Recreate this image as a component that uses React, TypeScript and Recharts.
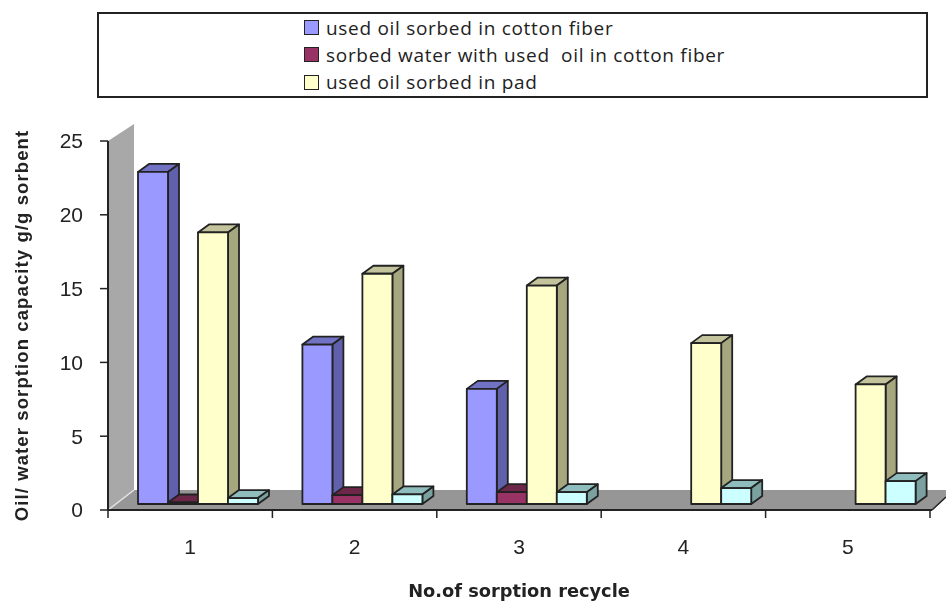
import { BarChart, Bar, XAxis, YAxis, Legend, Label, Customized } from 'recharts';

const CATEGORIES = ['1', '2', '3', '4', '5'];
const COTTON_OIL = [22.5, 10.8, 7.8, null, null];
const COTTON_WATER = [0.1, 0.6, 0.8, null, null];
const PAD_OIL = [18.4, 15.6, 14.8, 10.9, 8.1];
const PAD_WATER = [0.4, 0.65, 0.8, 1.08, 1.55];
const Y_TICKS = [0, 5, 10, 15, 20, 25];

const chartData = CATEGORIES.map((name, i) => ({
  name,
  cottonOil: COTTON_OIL[i],
  cottonWater: COTTON_WATER[i],
  padOil: PAD_OIL[i],
  padWater: PAD_WATER[i],
}));

const INK = '#222';
const BAND = 164.4;
// how far the bars stand back from the front edge of the floor
const SHIFT_X = 8;
const SHIFT_Y = -6;
const DEPTH_X = 11;
const DEPTH_Y = -8;

function box(front: string, side: string, top: string) {
  return (props: any) => {
    const { x, y, width, height } = props;
    if (!height || height <= 0) return null;
    const l = x + SHIFT_X;
    const r = l + width;
    const t = y + SHIFT_Y;
    const b = t + height;
    const line = { stroke: INK, strokeWidth: 1.8, strokeLinejoin: 'round' as const };
    return (
      <g>
        <polygon points={`${l},${t} ${l + DEPTH_X},${t + DEPTH_Y} ${r + DEPTH_X},${t + DEPTH_Y} ${r},${t}`} fill={top} {...line} />
        <polygon points={`${r},${t} ${r + DEPTH_X},${t + DEPTH_Y} ${r + DEPTH_X},${b + DEPTH_Y} ${r},${b}`} fill={side} {...line} />
        <rect x={l} y={t} width={width} height={height} fill={front} {...line} />
      </g>
    );
  };
}

function Backdrop() {
  return (
    <g>
      <polygon points="108,141 134,124 134,490 108,510" fill="#a8a8a8" />
      <polygon points="108,510 134,490 946,490 946,497 932,510" fill="#969696" />
      <line x1={108} y1={510} x2={134} y2={490} stroke="#e4e4e4" strokeWidth={1.5} />
      <line x1={108} y1={510} x2={932} y2={510} stroke={INK} strokeWidth={2} />
      <line x1={932} y1={510} x2={946} y2={497} stroke={INK} strokeWidth={1.5} />
    </g>
  );
}

function CategoryTick(props: any) {
  const { x, y, payload, index } = props;
  const left = x - BAND / 2;
  const right = x + BAND / 2;
  return (
    <g>
      <line x1={left} y1={y - 8} x2={left} y2={y} stroke={INK} strokeWidth={1.5} />
      {index === CATEGORIES.length - 1 && <line x1={right} y1={y - 8} x2={right} y2={y} stroke={INK} strokeWidth={1.5} />}
      <text x={x} y={y + 36} textAnchor="middle" fontFamily="Liberation Sans" fontSize={21} fill={INK}>
        {payload.value}
      </text>
    </g>
  );
}

function LegendBox(props: any) {
  const items = (props.payload || []).filter((p: any) => p.type !== 'none');
  return (
    <div
      style={{
        boxSizing: 'border-box',
        width: 831,
        height: 86,
        border: `2px solid ${INK}`,
        background: '#fff',
        paddingLeft: 205,
        fontFamily: 'Open Sans',
        fontSize: 19,
        letterSpacing: 0.7,
        color: INK,
      }}
    >
      {items.map((item: any) => (
        <div key={item.value} style={{ display: 'flex', alignItems: 'center', height: 27.3, whiteSpace: 'pre' }}>
          <span
            style={{
              boxSizing: 'border-box',
              width: 15,
              height: 15,
              marginRight: 7,
              background: item.color,
              border: `1.5px solid ${INK}`,
            }}
          />
          {item.value}
        </div>
      ))}
    </div>
  );
}

export default function App() {
  return (
    <div style={{ position: 'absolute', left: 0, top: 0, width: 946, height: 602, filter: 'blur(0.5px)' }}>
      <BarChart
        width={946}
        height={602}
        data={chartData}
        margin={{ top: 141, right: 16, bottom: 52, left: 48 }}
        barCategoryGap={22.2}
        barGap={0}
        barSize={30}
      >
        <Customized component={Backdrop} />
        <XAxis
          dataKey="name"
          height={40}
          axisLine={false}
          tickLine={false}
          tick={CategoryTick}
          interval={0}
        >
          <Label
            value="No.of sorption recycle"
            position="insideBottom"
            offset={-47}
            style={{ fontFamily: 'DejaVu Sans', fontWeight: 700, fontSize: 17.8, fill: INK }}
          />
        </XAxis>
        <YAxis
          width={60}
          domain={[0, 25]}
          ticks={Y_TICKS}
          interval={0}
          stroke={INK}
          axisLine={{ stroke: INK, strokeWidth: 2 }}
          tickLine={{ stroke: INK, strokeWidth: 1.5 }}
          tickSize={8}
          tickMargin={17}
          tick={{ fontFamily: 'Liberation Sans', fontSize: 21, fill: INK }}
        >
          <Label
            value="Oil/ water sorption capacity g/g sorbent"
            angle={-90}
            position="insideLeft"
            offset={-27}
            style={{ textAnchor: 'middle', fontFamily: 'Liberation Sans', fontWeight: 700, fontSize: 18.5, letterSpacing: 1.1, fill: INK }}
          />
        </YAxis>
        <Legend
          layout="horizontal"
          verticalAlign="middle"
          align="center"
          itemSorter={null}
          wrapperStyle={{ left: 97, top: 12, width: 831, height: 86 }}
          content={LegendBox}
        />
        <Bar dataKey="cottonOil" name="used oil sorbed in cotton fiber" fill="#9999ff" isAnimationActive={false} shape={box('#9999ff', '#6060ad', '#7272c4')} />
        <Bar dataKey="cottonWater" name="sorbed water with used  oil in cotton fiber" fill="#993366" isAnimationActive={false} shape={box('#993366', '#5a1e3c', '#6b2648')} />
        <Bar dataKey="padOil" name="used oil sorbed in pad" fill="#ffffcc" isAnimationActive={false} shape={box('#ffffcc', '#a6a67f', '#c4c49c')} />
        <Bar dataKey="padWater" legendType="none" fill="#ccffff" isAnimationActive={false} shape={box('#ccffff', '#7aa0a0', '#8fbcbc')} />
      </BarChart>
    </div>
  );
}
